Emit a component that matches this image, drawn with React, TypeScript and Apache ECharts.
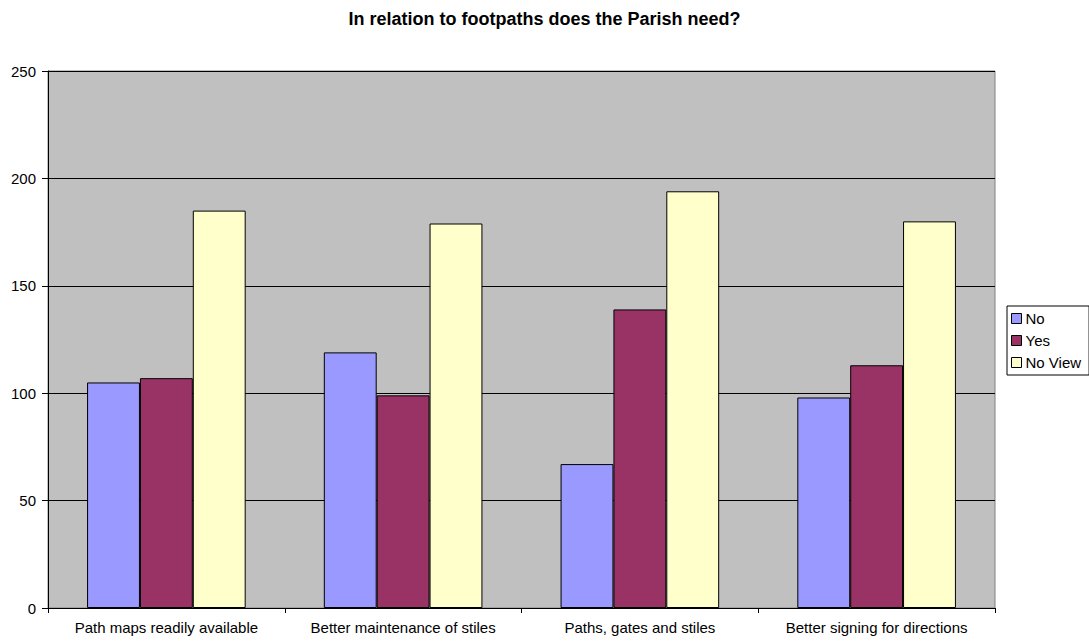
import React, { useEffect, useRef } from "react";
import * as echarts from "echarts";

const categories = [
  "Path maps readily available",
  "Better maintenance of stiles",
  "Paths, gates and stiles",
  "Better signing for directions",
];
const noValues = [105, 119, 67, 98];
const yesValues = [107, 99, 139, 113];
const noViewValues = [185, 179, 194, 180];
const yTicks = [0, 50, 100, 150, 200, 250];

export default function App() {
  const ref = useRef<HTMLDivElement>(null);
  useEffect(() => {
    if (!ref.current) return;
    const chart = echarts.init(ref.current, null, { renderer: "svg" });
    const font = "'Liberation Sans', Arial, sans-serif";
    const barStyle = (color: string) => ({
      color,
      borderColor: "#000000",
      borderWidth: 1,
    });
    chart.setOption({
      animation: false,
      backgroundColor: "#ffffff",
      textStyle: { fontFamily: font },
      title: {
        text: "In relation to footpaths does the Parish need?",
        left: "center",
        top: 5,
        textStyle: { fontFamily: font, fontSize: 18, fontWeight: "bold", color: "#000" },
      },
      legend: {
        orient: "vertical",
        left: 1007,
        top: 306,
        padding: [5, 8, 5, 4],
        itemGap: 7,
        itemWidth: 10,
        itemHeight: 10,
        icon: "rect",
        borderColor: "#000",
        borderWidth: 1,
        backgroundColor: "#fff",
        textStyle: { fontFamily: font, fontSize: 15, lineHeight: 15, color: "#000", padding: [0, 0, 0, -1] },
        itemStyle: { borderColor: "#000", borderWidth: 1 },
        data: ["No", "Yes", "No View"],
      },
      grid: {
        left: 48,
        right: 94,
        top: 71,
        bottom: 33,
        show: true,
        backgroundColor: "#C0C0C0",
        borderColor: "#808080",
        borderWidth: 1,
      },
      xAxis: {
        type: "category",
        data: categories,
        axisLine: { show: true, lineStyle: { color: "#000" } },
        axisTick: { show: true, interval: 0, alignWithLabel: false, length: 5, lineStyle: { color: "#000" } },
        axisLabel: { interval: 0, hideOverlap: false, fontFamily: font, fontSize: 15, color: "#000", margin: 12 },
      },
      yAxis: {
        type: "value",
        min: yTicks[0],
        max: yTicks[yTicks.length - 1],
        interval: 50,
        axisLine: { show: true, lineStyle: { color: "#000" } },
        axisTick: { show: true, length: 6, lineStyle: { color: "#000" } },
        axisLabel: { fontFamily: font, fontSize: 15, color: "#000", margin: 12 },
        splitLine: { show: true, lineStyle: { color: "#000", width: 1 } },
      },
      series: [
        { name: "No", type: "bar", data: noValues, itemStyle: barStyle("#9999FF"), barGap: "0%", barCategoryGap: "33%" },
        { name: "Yes", type: "bar", data: yesValues, itemStyle: barStyle("#993366"), barGap: "0%", barCategoryGap: "33%" },
        { name: "No View", type: "bar", data: noViewValues, itemStyle: barStyle("#FFFFCC"), barGap: "0%", barCategoryGap: "33%" },
      ],
    });
    return () => chart.dispose();
  }, []);
  return (
    <div
      ref={ref}
      style={{ position: "absolute", left: 0, top: 0, width: 1089, height: 641 }}
    />
  );
}
